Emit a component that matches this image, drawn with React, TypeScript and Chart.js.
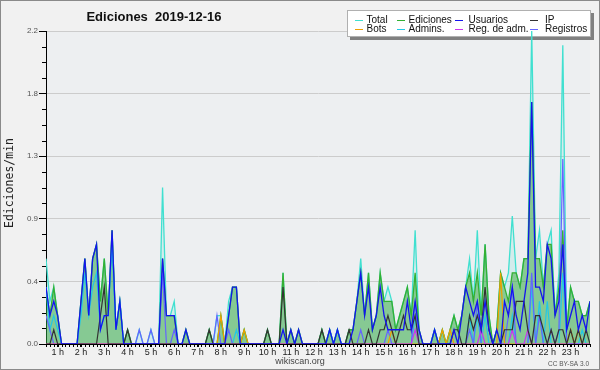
import React, { useEffect, useRef } from "react";
import { Chart, registerables } from "chart.js";

Chart.register(...registerables);

// 10-minute bins, first bin at 00:30
const START_HOUR = 0.5;
const STEP_HOURS = 1 / 6;
const HOUR_TICKS = [1, 2, 3, 4, 5, 6, 7, 8, 9, 10, 11, 12, 13, 14, 15, 16, 17, 18, 19, 20, 21, 22, 23];
const Y_TICKS = [0, 0.44, 0.88, 1.32, 1.76, 2.2];
const Y_MINOR_TICKS = [0.11, 0.22, 0.33, 0.55, 0.66, 0.77, 0.99, 1.1, 1.21, 1.43, 1.54, 1.65, 1.87, 1.98, 2.09];
const Y_MAX = 2.2;

const TITLE = "Ediciones  2019-12-16";
const Y_TITLE = "Ediciones/min";

const TOTAL = [
  0.6, 0.3, 0.4, 0.2, 0, 0, 0, 0, 0, 0.3,
  0.6, 0.2, 0.6, 0.7, 0.3, 0.6, 0.2, 0.8, 0.1, 0.3,
  0, 0.1, 0, 0, 0.1, 0, 0, 0.1, 0, 0,
  1.1, 0.2, 0.2, 0.3, 0, 0, 0.1, 0, 0, 0,
  0, 0, 0.1, 0, 0.2, 0.2, 0, 0.3, 0.4, 0.4,
  0, 0.1, 0, 0, 0, 0, 0, 0.1, 0, 0,
  0, 0.5, 0, 0.1, 0, 0.1, 0, 0, 0, 0,
  0, 0.1, 0, 0.1, 0, 0.1, 0, 0, 0.1, 0.1,
  0.3, 0.6, 0.2, 0.5, 0.1, 0.2, 0.5, 0.3, 0.4, 0.3,
  0.1, 0.2, 0.3, 0.4, 0.2, 0.8, 0.1, 0, 0, 0,
  0.1, 0, 0.1, 0, 0.1, 0.2, 0.1, 0.2, 0.4, 0.6,
  0.3, 0.8, 0.2, 0.7, 0.2, 0, 0.1, 0.5, 0.4, 0.5,
  0.9, 0.5, 0.4, 0.6, 0.6, 2.2, 0.6, 0.8, 0.4, 0.7,
  0.8, 0.2, 0.5, 2.1, 0.1, 0.4, 0.3, 0.3, 0.2, 0.2,
  0.3,
];

const EDICIONES = [
  0.4, 0.2, 0.4, 0.2, 0, 0, 0, 0, 0, 0.3,
  0.6, 0.2, 0.6, 0.7, 0.3, 0.6, 0.2, 0.8, 0.1, 0.3,
  0, 0.1, 0, 0, 0, 0, 0, 0, 0, 0,
  0.6, 0.2, 0.2, 0.2, 0, 0, 0.1, 0, 0, 0,
  0, 0, 0.1, 0, 0, 0.2, 0, 0.2, 0.4, 0.4,
  0, 0.1, 0, 0, 0, 0, 0, 0.1, 0, 0,
  0, 0.5, 0, 0.1, 0, 0.1, 0, 0, 0, 0,
  0, 0.1, 0, 0.1, 0, 0.1, 0, 0, 0.1, 0.1,
  0.3, 0.5, 0.2, 0.5, 0.1, 0.2, 0.5, 0.3, 0.3, 0.3,
  0.1, 0.2, 0.3, 0.4, 0.2, 0.5, 0.1, 0, 0, 0,
  0.1, 0, 0.1, 0, 0.1, 0.2, 0.1, 0.2, 0.4, 0.5,
  0.3, 0.5, 0.2, 0.7, 0.2, 0, 0.1, 0.5, 0.4, 0.3,
  0.5, 0.5, 0.4, 0.6, 0.6, 1.7, 0.6, 0.6, 0.4, 0.7,
  0.7, 0.2, 0.4, 0.8, 0.1, 0.4, 0.3, 0.3, 0.2, 0.2,
  0.3,
];

const USUARIOS = [
  0.4, 0.2, 0.3, 0.2, 0, 0, 0, 0, 0, 0.3,
  0.6, 0.2, 0.6, 0.7, 0.1, 0.2, 0.2, 0.8, 0.1, 0.3,
  0, 0, 0, 0, 0, 0, 0, 0, 0, 0,
  0.6, 0.2, 0.2, 0.2, 0, 0, 0.1, 0, 0, 0,
  0, 0, 0, 0, 0, 0, 0, 0.2, 0.4, 0.4,
  0, 0, 0, 0, 0, 0, 0, 0, 0, 0,
  0, 0.1, 0, 0.1, 0, 0.1, 0, 0, 0, 0,
  0, 0, 0, 0.1, 0, 0.1, 0, 0, 0, 0.1,
  0.3, 0.5, 0.2, 0.4, 0.1, 0.2, 0.4, 0.2, 0.1, 0.1,
  0.1, 0.1, 0.1, 0.3, 0.1, 0.3, 0.1, 0, 0, 0,
  0.1, 0, 0, 0, 0, 0.1, 0, 0.2, 0.4, 0.3,
  0.2, 0.3, 0.1, 0.3, 0.1, 0, 0.1, 0, 0.3, 0.2,
  0.4, 0.2, 0.1, 0.3, 0.5, 1.7, 0.4, 0.4, 0.3, 0.7,
  0.6, 0.2, 0.3, 0.7, 0.1, 0.2, 0.3, 0.1, 0.2, 0.1,
  0.3,
];

const IP = [
  0, 0, 0.1, 0, 0, 0, 0, 0, 0, 0,
  0, 0, 0, 0, 0.2, 0.4, 0, 0, 0, 0,
  0, 0.1, 0, 0, 0, 0, 0, 0, 0, 0,
  0, 0, 0, 0, 0, 0, 0, 0, 0, 0,
  0, 0, 0.1, 0, 0, 0, 0, 0, 0, 0,
  0, 0, 0, 0, 0, 0, 0, 0.1, 0, 0,
  0, 0.4, 0, 0, 0, 0, 0, 0, 0, 0,
  0, 0.1, 0, 0, 0, 0, 0, 0, 0.1, 0,
  0, 0, 0, 0.1, 0, 0, 0.1, 0.1, 0.2, 0.1,
  0, 0.1, 0.2, 0.1, 0.1, 0.2, 0, 0, 0, 0,
  0, 0, 0, 0, 0, 0.1, 0.1, 0, 0, 0.2,
  0.1, 0.2, 0.1, 0.4, 0.1, 0, 0, 0, 0.1, 0.1,
  0.1, 0.3, 0.3, 0.3, 0.1, 0, 0.2, 0.2, 0.1, 0,
  0.1, 0, 0.1, 0.1, 0, 0.1, 0, 0.1, 0, 0.1,
  0,
];

const BOTS = [
  0, 0, 0, 0, 0, 0, 0, 0, 0, 0,
  0, 0, 0, 0, 0, 0, 0, 0, 0, 0,
  0, 0, 0, 0, 0, 0, 0, 0, 0, 0,
  0, 0, 0, 0, 0, 0, 0, 0, 0, 0,
  0, 0, 0, 0, 0, 0.2, 0, 0, 0, 0,
  0, 0.1, 0, 0, 0, 0, 0, 0, 0, 0,
  0, 0, 0, 0, 0, 0, 0, 0, 0, 0,
  0, 0, 0, 0, 0, 0, 0, 0, 0, 0,
  0, 0, 0, 0, 0, 0, 0, 0, 0, 0.1,
  0, 0, 0, 0, 0, 0, 0, 0, 0, 0,
  0, 0, 0.1, 0, 0.1, 0, 0, 0, 0, 0,
  0, 0, 0, 0, 0, 0, 0, 0.5, 0, 0,
  0, 0, 0, 0, 0, 0, 0, 0, 0, 0,
  0, 0, 0, 0, 0, 0.1, 0, 0.1, 0, 0,
  0,
];

const ADMINS = [
  0.4, 0.1, 0.2, 0.1, 0, 0, 0, 0, 0, 0.2,
  0.5, 0.2, 0.4, 0.5, 0.1, 0.2, 0.2, 0.7, 0.1, 0.3,
  0, 0, 0, 0, 0, 0, 0, 0, 0, 0,
  0, 0, 0, 0, 0, 0, 0, 0, 0, 0,
  0, 0, 0, 0, 0, 0, 0, 0, 0, 0.1,
  0, 0, 0, 0, 0, 0, 0, 0, 0, 0,
  0, 0, 0, 0, 0, 0, 0, 0, 0, 0,
  0, 0, 0, 0.1, 0, 0.1, 0, 0, 0, 0,
  0, 0, 0, 0, 0, 0, 0, 0, 0, 0,
  0, 0, 0, 0, 0, 0.2, 0, 0, 0, 0,
  0.1, 0, 0, 0, 0, 0, 0, 0, 0, 0.2,
  0, 0.2, 0, 0.2, 0, 0, 0, 0, 0, 0,
  0.2, 0, 0, 0, 0, 0.4, 0, 0.3, 0, 0.3,
  0, 0, 0, 0.5, 0, 0, 0, 0, 0.1, 0,
  0,
];

const REG_ADM = [
  0, 0, 0, 0, 0, 0, 0, 0, 0, 0,
  0, 0, 0, 0, 0, 0, 0, 0, 0, 0,
  0, 0, 0, 0, 0, 0, 0, 0, 0, 0,
  0, 0, 0, 0, 0, 0, 0, 0, 0, 0,
  0, 0, 0, 0, 0, 0, 0, 0, 0, 0,
  0, 0, 0, 0, 0, 0, 0, 0, 0, 0,
  0, 0, 0, 0, 0, 0, 0, 0, 0, 0,
  0, 0, 0, 0, 0, 0, 0, 0, 0, 0,
  0, 0, 0, 0, 0, 0, 0, 0, 0, 0,
  0, 0, 0, 0, 0, 0.1, 0, 0, 0, 0,
  0, 0, 0, 0, 0, 0, 0, 0, 0, 0,
  0, 0, 0.1, 0, 0, 0, 0, 0, 0, 0,
  0.1, 0, 0, 0, 0.1, 0, 0, 0, 0, 0,
  0, 0, 0, 0, 0, 0, 0, 0, 0, 0,
  0,
];

const REGISTROS = [
  0.2, 0.1, 0, 0, 0, 0, 0, 0, 0, 0,
  0, 0, 0, 0, 0, 0, 0, 0, 0, 0,
  0, 0, 0, 0, 0.1, 0, 0, 0.1, 0, 0,
  0.5, 0, 0, 0.1, 0, 0, 0, 0, 0, 0,
  0, 0, 0, 0, 0.2, 0, 0, 0.1, 0, 0,
  0, 0, 0, 0, 0, 0, 0, 0, 0, 0,
  0, 0, 0, 0, 0, 0, 0, 0, 0, 0,
  0, 0, 0, 0, 0, 0, 0, 0, 0, 0,
  0, 0.1, 0, 0, 0, 0, 0, 0, 0.1, 0,
  0, 0, 0, 0, 0, 0.3, 0, 0, 0, 0,
  0, 0, 0, 0, 0, 0, 0, 0, 0, 0.1,
  0, 0.3, 0, 0, 0, 0, 0, 0, 0, 0.2,
  0.4, 0, 0, 0, 0, 0.5, 0, 0.2, 0, 0,
  0.1, 0, 0.1, 1.3, 0, 0, 0, 0, 0, 0,
  0,
];

const SERIES = [
  { label: "Total", data: TOTAL, color: "#40e0d0", fill: "rgba(64,224,208,0.15)", order: 8, width: 1.3 },
  { label: "Ediciones", data: EDICIONES, color: "#33b033", fill: "rgba(40,160,40,0.45)", order: 7, width: 1.3 },
  { label: "Usuarios", data: USUARIOS, color: "#1414ee", fill: null, order: 1, width: 1.3 },
  { label: "IP", data: IP, color: "#333333", fill: null, order: 2, width: 1.2 },
  { label: "Bots", data: BOTS, color: "#f0a000", fill: null, order: 4, width: 1.2 },
  { label: "Admins.", data: ADMINS, color: "#22c8e6", fill: null, order: 6, width: 1.2 },
  { label: "Reg. de adm.", data: REG_ADM, color: "#cc33ee", fill: null, order: 3, width: 1.2 },
  { label: "Registros", data: REGISTROS, color: "#6464ff", fill: null, order: 5, width: 1.2 },
];

const LEGEND_COLS = [
  { lineX: 355, textX: 366.5 },
  { lineX: 397, textX: 408.5 },
  { lineX: 455, textX: 468.5 },
  { lineX: 530, textX: 545 },
];
const LEGEND_ROWS = [19.5, 29];

const decorPlugin = {
  id: "decor",
  beforeDraw(chart: any) {
    const { ctx, chartArea: a, width, height } = chart;
    ctx.save();
    ctx.fillStyle = "#f1f1f1";
    ctx.fillRect(0, 0, width, height);
    ctx.fillStyle = "#edeff1";
    ctx.fillRect(a.left, a.top, a.right - a.left, a.bottom - a.top);
    ctx.strokeStyle = "#8a8a8a";
    ctx.lineWidth = 1;
    ctx.strokeRect(0.5, 0.5, width - 1, height - 1);
    ctx.restore();
  },
  beforeDatasetsDraw(chart: any) {
    const { ctx } = chart;
    ctx.save();
    const bx = 347, by = 10, bw = 244, bh = 27;
    ctx.fillStyle = "#808080";
    ctx.fillRect(bx + 3, by + 3, bw, bh);
    ctx.fillStyle = "#ffffff";
    ctx.fillRect(bx, by, bw, bh);
    ctx.strokeStyle = "#b0b0b0";
    ctx.lineWidth = 1;
    ctx.strokeRect(bx + 0.5, by + 0.5, bw - 1, bh - 1);
    ctx.font = "10px 'Liberation Sans', Arial, sans-serif";
    ctx.textBaseline = "middle";
    ctx.textAlign = "left";
    chart.data.datasets.forEach((ds: any, i: number) => {
      const col = LEGEND_COLS[i % 4];
      const y = LEGEND_ROWS[Math.floor(i / 4)];
      ctx.strokeStyle = ds.borderColor;
      ctx.lineWidth = 1;
      ctx.beginPath();
      ctx.moveTo(col.lineX, Math.round(y) + 0.5);
      ctx.lineTo(col.lineX + 8, Math.round(y) + 0.5);
      ctx.stroke();
      ctx.fillStyle = "#111";
      ctx.fillText(ds.label, col.textX, y + 0.5);
    });
    ctx.restore();
  },
  afterDraw(chart: any) {
    const { ctx, chartArea: a } = chart;
    const xs = chart.scales.x;
    const ys = chart.scales.y;
    ctx.save();
    ctx.strokeStyle = "#000";
    ctx.lineWidth = 1;
    ctx.beginPath();
    TOTAL.forEach((_, k) => {
      const x = Math.round(xs.getPixelForValue(START_HOUR + k * STEP_HOURS)) + 0.5;
      ctx.moveTo(x, a.bottom);
      ctx.lineTo(x, a.bottom + 3);
    });
    Y_MINOR_TICKS.forEach((v) => {
      const y = Math.round(ys.getPixelForValue(v)) + 0.5;
      ctx.moveTo(a.left - 4, y);
      ctx.lineTo(a.left, y);
    });
    ctx.stroke();
    ctx.fillStyle = "#111";
    ctx.font = "bold 13px 'Liberation Sans', Arial, sans-serif";
    ctx.textAlign = "center";
    ctx.textBaseline = "alphabetic";
    ctx.fillText(TITLE, 154, 21);
    ctx.save();
    ctx.translate(13, 183);
    ctx.rotate(-Math.PI / 2);
    ctx.font = "11.5px 'DejaVu Sans Mono', monospace";
    ctx.fillStyle = "#222";
    ctx.textAlign = "center";
    ctx.fillText(Y_TITLE, 0, 0);
    ctx.restore();
    ctx.font = "9px 'Liberation Sans', Arial, sans-serif";
    ctx.fillStyle = "#444";
    ctx.textAlign = "center";
    ctx.fillText("wikiscan.org", 300, 364);
    ctx.font = "6.5px 'Liberation Sans', Arial, sans-serif";
    ctx.fillStyle = "#555";
    ctx.textAlign = "right";
    ctx.fillText("CC BY-SA 3.0", 589, 366);
    ctx.restore();
  },
};

export default function App() {
  const ref = useRef<HTMLCanvasElement | null>(null);
  useEffect(() => {
    if (!ref.current) return;
    const datasets = SERIES.map((s) => ({
      label: s.label,
      data: s.data.map((v, k) => ({ x: START_HOUR + k * STEP_HOURS, y: v })),
      borderColor: s.color,
      backgroundColor: s.fill || s.color,
      fill: s.fill ? "origin" : false,
      borderWidth: s.width,
      pointRadius: 0,
      tension: 0,
      order: s.order,
    }));
    const chart = new Chart(ref.current, {
      type: "line",
      data: { datasets },
      plugins: [decorPlugin],
      options: {
        animation: false,
        responsive: false,
        maintainAspectRatio: false,
        layout: { padding: { top: 31, right: 10, left: 0, bottom: 0 } },
        plugins: {
          legend: { display: false },
          title: { display: false },
          tooltip: { enabled: false },
        },
        scales: {
          x: {
            type: "linear",
            min: START_HOUR,
            max: START_HOUR + (TOTAL.length - 1) * STEP_HOURS,
            afterBuildTicks: (s: any) => {
              s.ticks = HOUR_TICKS.map((h) => ({ value: h }));
            },
            afterFit: (s: any) => {
              s.height = 26;
            },
            ticks: {
              autoSkip: false,
              maxRotation: 0,
              padding: 0,
              color: "#222",
              font: { family: "'Liberation Sans', Arial, sans-serif", size: 9 },
              callback: (v: any) => `${v} h`,
            },
            grid: {
              display: true,
              drawOnChartArea: false,
              drawTicks: true,
              tickLength: 3,
              tickColor: "#000",
              color: "#000",
            },
            border: { display: true, color: "#000", width: 1 },
          },
          y: {
            type: "linear",
            min: 0,
            max: Y_MAX,
            afterBuildTicks: (s: any) => {
              s.ticks = Y_TICKS.map((v) => ({ value: v }));
            },
            afterFit: (s: any) => {
              s.width = 46;
            },
            ticks: {
              padding: 1,
              color: "#555",
              font: { family: "'Liberation Sans', Arial, sans-serif", size: 8 },
              callback: (v: any) => Number(v).toFixed(1),
            },
            grid: {
              color: "#cccccc",
              tickColor: "#000",
              tickLength: 7,
              lineWidth: 1,
            },
            border: { display: true, color: "#000", width: 1 },
          },
        },
      },
    } as any);
    return () => chart.destroy();
  }, []);
  return (
    <div style={{ position: "absolute", left: 0, top: 0, width: 600, height: 370 }}>
      <canvas ref={ref} width={600} height={370} style={{ width: 600, height: 370 }} />
    </div>
  );
}
